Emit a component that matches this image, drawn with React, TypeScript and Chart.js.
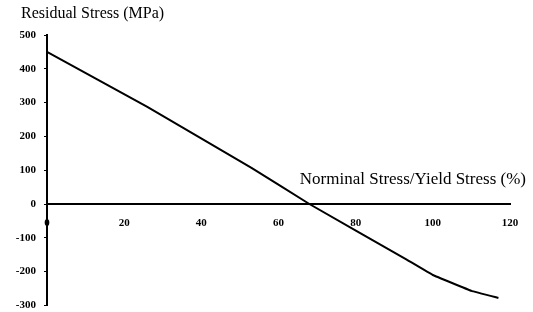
import React, { useEffect, useRef } from "react";
import { Chart, registerables } from "chart.js";

Chart.register(...registerables);

const ratioPct = [0, 26, 53, 68, 93, 100, 110, 117];
const residualMPa = [450, 287, 107, 0, -163, -210, -257, -278];
const xTicks = [0, 20, 40, 60, 80, 100, 120];
const yTicks = [-300, -200, -100, 0, 100, 200, 300, 400, 500];
const yTitle = "Residual Stress (MPa)";
const xTitle = "Norminal Stress/Yield Stress (%)";

const SERIF = "'Liberation Serif', 'DejaVu Serif', serif";

const titlesPlugin = {
  id: "titles",
  afterDraw(chart: any) {
    const ctx = chart.ctx;
    const x = chart.scales.x;
    const y = chart.scales.y;
    ctx.save();
    ctx.fillStyle = "#000";
    ctx.textBaseline = "alphabetic";
    ctx.font = `16px ${SERIF}`;
    ctx.textAlign = "left";
    ctx.fillText(yTitle, 21, 18);
    ctx.font = `17px ${SERIF}`;
    ctx.textAlign = "right";
    ctx.fillText(xTitle, x.right + 16, y.getPixelForValue(0) - 20);
    ctx.restore();
  },
};

export default function App() {
  const ref = useRef<HTMLCanvasElement>(null);
  useEffect(() => {
    document.body.style.margin = "0";
    const chart = new Chart(ref.current!, {
      type: "line",
      data: {
        datasets: [
          {
            data: ratioPct.map((v, i) => ({ x: v, y: residualMPa[i] })),
            borderColor: "#000",
            borderWidth: 2,
            pointRadius: 0,
            tension: 0.05,
            fill: false,
          },
        ],
      },
      options: {
        animation: false,
        responsive: false,
        layout: { padding: { top: 35, right: 23, bottom: 2, left: 0 } },
        plugins: { legend: { display: false }, tooltip: { enabled: false }, title: { display: false } },
        scales: {
          x: {
            type: "linear",
            position: { y: 0 },
            min: 0,
            max: 120,
            afterBuildTicks: (s: any) => {
              s.ticks = xTicks.map((v) => ({ value: v }));
            },
            grid: { display: false, drawTicks: false },
            border: { display: true, color: "#000", width: 2 },
            ticks: {
              padding: 13,
              color: "#000",
              font: { family: SERIF, size: 11, weight: "bold" },
              maxRotation: 0,
            },
          },
          y: {
            type: "linear",
            min: -300,
            max: 500,
            afterBuildTicks: (s: any) => {
              s.ticks = yTicks.map((v) => ({ value: v }));
            },
            afterFit: (s: any) => {
              s.width = 47;
            },
            grid: { display: true, drawOnChartArea: false, drawTicks: true, tickLength: 3, color: "#000", lineWidth: 1 },
            border: { display: true, color: "#000", width: 2 },
            ticks: {
              padding: 8,
              color: "#000",
              font: { family: SERIF, size: 11, weight: "bold" },
            },
          },
        },
      },
      plugins: [titlesPlugin],
    });
    return () => chart.destroy();
  }, []);
  return (
    <div style={{ position: "fixed", left: 0, top: 0, width: 533, height: 312, overflow: "hidden", background: "#fff" }}>
      <canvas ref={ref} width={533} height={320} />
    </div>
  );
}
